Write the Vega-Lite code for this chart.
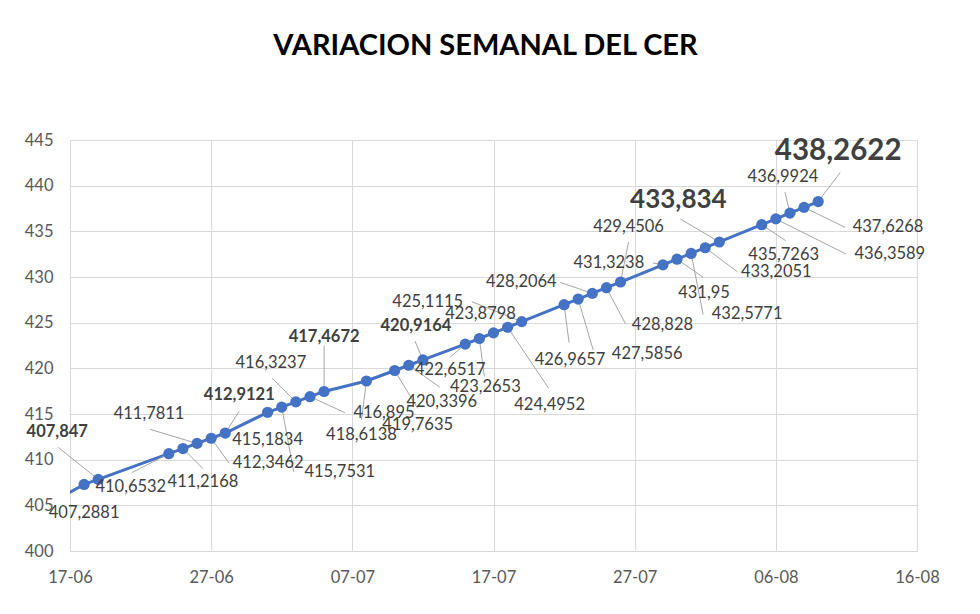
{
  "$schema": "https://vega.github.io/schema/vega-lite/v6.json",
  "width": 847,
  "height": 411,
  "autosize": "none",
  "padding": {"left": 70, "top": 140, "right": 63, "bottom": 63},
  "background": "white",
  "title": {
    "text": "VARIACION SEMANAL DEL CER",
    "font": "Lato",
    "fontSize": 29,
    "fontWeight": "bold",
    "color": "#000000",
    "anchor": "middle",
    "frame": "group",
    "baseline": "alphabetic",
    "dx": -8,
    "offset": 48
  },
  "params": [
    {
      "name": "off",
      "value": {
        "407.2881": [0, 29, 0, 0, 16.5, 0],
        "407.847": [-41, -47, -40, -32, 16.5, 1],
        "410.6532": [-38, 33, -37, 19, 16.5, 0],
        "411.2168": [20, 33, 20, 20, 16.5, 0],
        "411.7811": [-48, -29, -47, -14, 16.5, 0],
        "412.3462": [57, 25, 18, 25, 16.5, 0],
        "412.9121": [14, -38, 14, -22, 16.5, 1],
        "415.1834": [0, 28, 0, 0, 16.5, 0],
        "415.7531": [58, 65, 12, 65, 16.5, 0],
        "416.3237": [-25, -39, -24, -24, 16.5, 0],
        "416.895": [74, 16, 35, 16, 16.5, 0],
        "417.4672": [0, -54, 0, -46, 16.5, 1],
        "418.6138": [-5, 54, -5, 39, 16.5, 0],
        "419.7635": [23, 55, 23, 38, 16.5, 0],
        "420.3396": [33, 37, 31, 22, 16.5, 0],
        "420.9164": [-7, -34, -8, -19, 16.5, 1],
        "422.6517": [-15, 26, -15, 13, 16.5, 0],
        "423.2653": [6, 48, 5, 38, 16.5, 0],
        "423.8798": [-13, -19, 0, 0, 16.5, 0],
        "424.4952": [42, 78, 41, 61, 16.5, 0],
        "425.1115": [-94, -20, -50, -20, 16.5, 0],
        "426.9657": [6, 55, 5, 38, 16.5, 0],
        "427.5856": [69, 55, 15, 51, 16.5, 0],
        "428.2064": [-71, -11, -32, -11, 16.5, 0],
        "428.828": [56, 37, 19, 36, 16.5, 0],
        "429.4506": [8, -55, 8, -40, 16.5, 0],
        "431.3238": [-54, -2, -10, -2, 16.5, 0],
        "431.95": [27, 34, 26, 18, 16.5, 0],
        "432.5771": [56, 61, 12, 61, 16.5, 0],
        "433.2051": [71, 24, 32, 24, 16.5, 0],
        "433.834": [-41, -42, -39, -23, 26, 1],
        "435.7263": [22, 30, 24, 16, 16.5, 0],
        "436.3589": [114, 35, 70, 35, 16.5, 0],
        "436.9924": [-7, -36, -5, -21, 16.5, 0],
        "437.6268": [84, 20, 41, 20, 16.5, 0],
        "438.2622": [20, -51, 22, -29, 29.5, 1]
      }
    }
  ],
  "data": {
    "values": [
      {"date": "2024-06-14", "value": 403.9},
      {"date": "2024-06-18", "value": 407.2881},
      {"date": "2024-06-19", "value": 407.847},
      {"date": "2024-06-24", "value": 410.6532},
      {"date": "2024-06-25", "value": 411.2168},
      {"date": "2024-06-26", "value": 411.7811},
      {"date": "2024-06-27", "value": 412.3462},
      {"date": "2024-06-28", "value": 412.9121},
      {"date": "2024-07-01", "value": 415.1834},
      {"date": "2024-07-02", "value": 415.7531},
      {"date": "2024-07-03", "value": 416.3237},
      {"date": "2024-07-04", "value": 416.895},
      {"date": "2024-07-05", "value": 417.4672},
      {"date": "2024-07-08", "value": 418.6138},
      {"date": "2024-07-10", "value": 419.7635},
      {"date": "2024-07-11", "value": 420.3396},
      {"date": "2024-07-12", "value": 420.9164},
      {"date": "2024-07-15", "value": 422.6517},
      {"date": "2024-07-16", "value": 423.2653},
      {"date": "2024-07-17", "value": 423.8798},
      {"date": "2024-07-18", "value": 424.4952},
      {"date": "2024-07-19", "value": 425.1115},
      {"date": "2024-07-22", "value": 426.9657},
      {"date": "2024-07-23", "value": 427.5856},
      {"date": "2024-07-24", "value": 428.2064},
      {"date": "2024-07-25", "value": 428.828},
      {"date": "2024-07-26", "value": 429.4506},
      {"date": "2024-07-29", "value": 431.3238},
      {"date": "2024-07-30", "value": 431.95},
      {"date": "2024-07-31", "value": 432.5771},
      {"date": "2024-08-01", "value": 433.2051},
      {"date": "2024-08-02", "value": 433.834},
      {"date": "2024-08-05", "value": 435.7263},
      {"date": "2024-08-06", "value": 436.3589},
      {"date": "2024-08-07", "value": 436.9924},
      {"date": "2024-08-08", "value": 437.6268},
      {"date": "2024-08-09", "value": 438.2622}
    ]
  },
  "encoding": {
    "x": {
      "field": "date",
      "type": "temporal",
      "title": null,
      "scale": {
        "type": "utc",
        "domain": [
          {"year": 2024, "month": 6, "date": 17, "utc": true},
          {"year": 2024, "month": 8, "date": 16, "utc": true}
        ]
      },
      "axis": {
        "values": [
          {"year": 2024, "month": 6, "date": 17, "utc": true},
          {"year": 2024, "month": 6, "date": 27, "utc": true},
          {"year": 2024, "month": 7, "date": 7, "utc": true},
          {"year": 2024, "month": 7, "date": 17, "utc": true},
          {"year": 2024, "month": 7, "date": 27, "utc": true},
          {"year": 2024, "month": 8, "date": 6, "utc": true},
          {"year": 2024, "month": 8, "date": 16, "utc": true}
        ],
        "labelExpr": "utcFormat(datum.value, '%d-%m')",
        "labelPadding": 18,
        "labelFlush": false,
        "labelOverlap": false
      }
    },
    "y": {
      "field": "value",
      "type": "quantitative",
      "title": null,
      "scale": {"domain": [400, 445], "zero": false, "nice": false},
      "axis": {
        "values": [400, 405, 410, 415, 420, 425, 430, 435, 440, 445],
        "labelPadding": 17
      }
    }
  },
  "layer": [
    {
      "mark": {"type": "line", "color": "#4472C4", "strokeWidth": 3, "clip": true}
    },
    {
      "transform": [{"filter": "datum.value > 405"}],
      "mark": {
        "type": "rule",
        "color": "#a6a6a6",
        "strokeWidth": 1,
        "x2Offset": {"expr": "off[datum.value][2]"},
        "y2Offset": {"expr": "off[datum.value][3]"}
      },
      "encoding": {
        "x2": {"field": "date"},
        "y2": {"field": "value"}
      }
    },
    {
      "transform": [{"filter": "datum.value > 405"}],
      "mark": {"type": "circle", "size": 125, "color": "#4472C4", "opacity": 1}
    },
    {
      "transform": [{"filter": "datum.value > 405"}],
      "mark": {
        "type": "text",
        "font": "Lato",
        "color": "#404040",
        "align": "center",
        "baseline": "middle",
        "dx": {"expr": "off[datum.value][0]"},
        "dy": {"expr": "off[datum.value][1]"},
        "fontSize": {"expr": "off[datum.value][4]"},
        "fontWeight": {"expr": "off[datum.value][5] ? 'bold' : 'normal'"}
      },
      "encoding": {
        "text": {"field": "value", "type": "quantitative", "format": "~f"}
      }
    }
  ],
  "config": {
    "locale": {
      "number": {"decimal": ",", "thousands": ".", "grouping": [3], "currency": ["$", ""]}
    },
    "view": {"stroke": null},
    "axis": {
      "grid": true,
      "gridColor": "#d9d9d9",
      "gridWidth": 1,
      "domainColor": "#d9d9d9",
      "domainWidth": 1,
      "ticks": false,
      "labelFont": "Lato",
      "labelFontSize": 16.5,
      "labelColor": "#595959"
    }
  }
}
